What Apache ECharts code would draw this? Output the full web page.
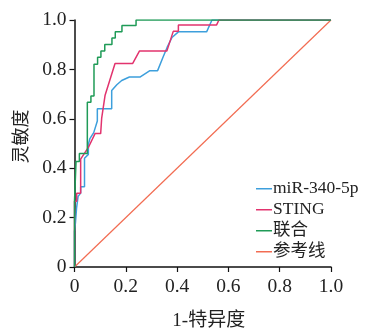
<!DOCTYPE html>
<html>
<head>
<meta charset="utf-8">
<script src="https://cdn.jsdelivr.net/npm/echarts@6/dist/echarts.min.js"></script>
<style>html,body{margin:0;padding:0;background:#fff}#c{width:371px;height:336px}</style>
</head>
<body>
<div id="c"></div>
<script>
// ROC curves: [1-specificity, sensitivity]
const seriesNames = ['miR-340-5p', 'STING', '联合', '参考线'];
const xTicks = [0, 0.2, 0.4, 0.6, 0.8, 1.0];
const yTicks = [0, 0.2, 0.4, 0.6, 0.8, 1.0];
const mirPoints = [
  [0,0],[0,0.143],[0.004,0.183],[0.008,0.238],[0.014,0.286],[0.024,0.299],[0.024,0.325],
  [0.039,0.325],[0.039,0.44],[0.054,0.456],[0.054,0.496],[0.06,0.52],[0.075,0.544],
  [0.089,0.591],[0.089,0.641],[0.145,0.641],[0.145,0.715],[0.165,0.738],[0.184,0.755],
  [0.214,0.769],[0.255,0.769],[0.294,0.795],[0.324,0.795],[0.345,0.849],[0.361,0.889],
  [0.38,0.929],[0.405,0.952],[0.515,0.952],[0.536,1.0],[1,1]
];
const stingPoints = [
  [0,0],[0,0.266],[0.0086,0.266],[0.0086,0.299],[0.024,0.299],[0.024,0.437],[0.054,0.484],
  [0.08,0.54],[0.102,0.54],[0.106,0.603],[0.119,0.694],[0.158,0.824],[0.227,0.824],
  [0.253,0.874],[0.36,0.874],[0.385,0.954],[0.405,0.954],[0.405,0.98],[0.554,0.98],
  [0.563,1.0],[1,1]
];
const combinedPoints = [
  [0,0],[0,0.266],[0.006,0.266],[0.006,0.427],[0.019,0.427],[0.019,0.46],[0.05,0.46],
  [0.05,0.667],[0.064,0.667],[0.064,0.692],[0.076,0.692],[0.076,0.821],[0.09,0.821],
  [0.09,0.849],[0.103,0.849],[0.103,0.874],[0.118,0.874],[0.118,0.901],[0.146,0.901],
  [0.146,0.927],[0.159,0.927],[0.159,0.952],[0.185,0.952],[0.185,0.978],[0.24,0.978],
  [0.24,1.0],[1,1]
];
const referencePoints = [[0,0],[1,1]];

const colors = ['#3d9fdc', '#e2336e', '#1f9b57', '#f26c52'];
const serif = "'Liberation Serif','Times New Roman','Noto Sans CJK SC',serif";
const fmt = v => (v === 0 ? '0' : v.toFixed(1));

const chart = echarts.init(document.getElementById('c'), null, {renderer: 'canvas'});
const datasets = [mirPoints, stingPoints, combinedPoints, referencePoints];
chart.setOption({
  animation: false,
  color: colors,
  grid: {left: 74.5, right: 40, top: 20, bottom: 64, containLabel: false},
  legend: {
    data: seriesNames,
    orient: 'vertical',
    left: 251,
    top: 175,
    icon: 'rect',
    itemWidth: 16,
    itemHeight: 1.5,
    itemGap: 3.5,
    textStyle: {fontFamily: serif, fontSize: 17.5, lineHeight: 17, color: '#222', padding: [0,0,0,-4]}
  },
  xAxis: {
    type: 'value', min: 0, max: 1, interval: 0.2,
    name: '1-特异度', nameLocation: 'middle', nameGap: 45,
    nameTextStyle: {fontFamily: serif, fontSize: 19, color: '#222', padding: [0,0,0,12]},
    axisLine: {show: true, lineStyle: {color: '#111', width: 1.5}},
    axisTick: {show: true, length: 5, lineStyle: {color: '#111', width: 1.2}},
    axisLabel: {fontFamily: serif, fontSize: 19.5, color: '#222', margin: 10,
      formatter: v => fmt(xTicks.find(t => Math.abs(t - v) < 1e-6) ?? v)},
    splitLine: {show: false}
  },
  yAxis: {
    type: 'value', min: 0, max: 1, interval: 0.2,
    name: '灵敏度', nameLocation: 'middle', nameGap: 41, nameRotate: 90,
    nameTextStyle: {fontFamily: serif, fontSize: 18, color: '#222', padding: [0,0,0,14]},
    axisLine: {show: true, lineStyle: {color: '#111', width: 1.5}},
    axisTick: {show: true, length: 5, lineStyle: {color: '#111', width: 1.2}},
    axisLabel: {fontFamily: serif, fontSize: 19.5, color: '#222', margin: 8,
      formatter: v => fmt(yTicks.find(t => Math.abs(t - v) < 1e-6) ?? v)},
    splitLine: {show: false}
  },
  series: seriesNames.map((n, i) => ({
    name: n,
    type: 'line',
    data: datasets[i],
    showSymbol: false,
    symbol: 'none',
    lineStyle: {width: i === 3 ? 1.2 : 1.5, color: colors[i]},
    z: i === 3 ? 1 : 2 + i
  }))
});
</script>
</body>
</html>
